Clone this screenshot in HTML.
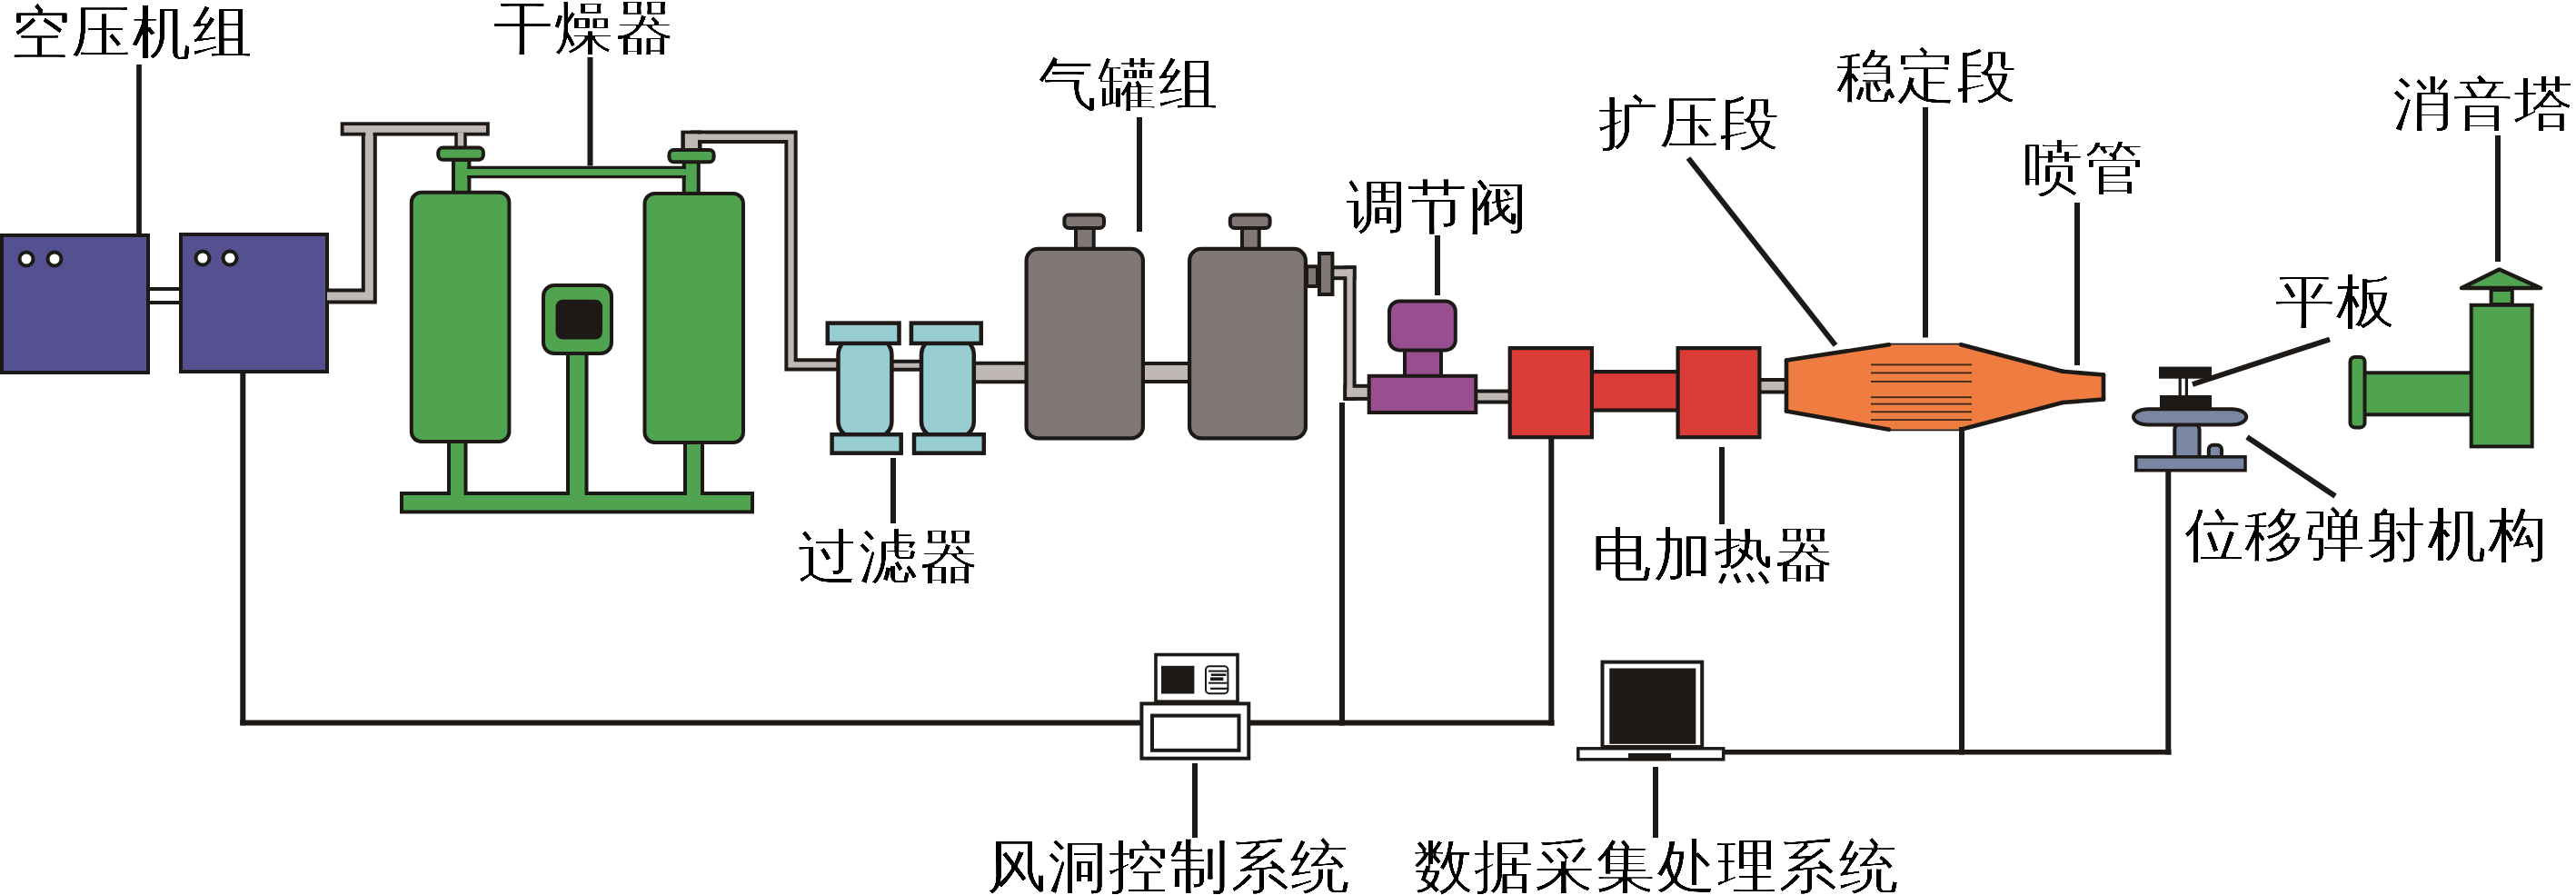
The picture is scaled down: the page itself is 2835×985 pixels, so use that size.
<!DOCTYPE html>
<html><head><meta charset="utf-8">
<style>
html,body{margin:0;padding:0;background:#fff;width:2835px;height:985px;overflow:hidden}
svg{position:absolute;left:0;top:0}
.t{position:absolute;font-family:"Liberation Serif",serif;font-size:65px;line-height:65px;color:#000;white-space:nowrap;letter-spacing:1.9px;filter:url(#er)}
</style></head><body>
<svg width="2835" height="985" viewBox="0 0 2835 985">
<defs><filter id="er" x="-5%" y="-5%" width="110%" height="110%"><feMorphology operator="erode" radius="0.01 1"/><feComponentTransfer><feFuncA type="linear" slope="3"/></feComponentTransfer></filter></defs>
<polyline points="160,325.5 202,325.5" fill="none" stroke="#1c1916" stroke-width="19" stroke-linejoin="miter"/>
<polyline points="160,325.5 202,325.5" fill="none" stroke="#ffffff" stroke-width="11" stroke-linejoin="miter"/>
<rect x="2.0" y="259.0" width="161.0" height="151.0" rx="0" fill="#55508f" stroke="#1c1916" stroke-width="4"/>
<rect x="199.0" y="258.0" width="161.0" height="151.0" rx="0" fill="#55508f" stroke="#1c1916" stroke-width="4"/>
<circle cx="29" cy="285" r="7.5" fill="#fff" stroke="#1c1916" stroke-width="4"/>
<circle cx="60" cy="285" r="7.5" fill="#fff" stroke="#1c1916" stroke-width="4"/>
<circle cx="223" cy="284" r="7.5" fill="#fff" stroke="#1c1916" stroke-width="4"/>
<circle cx="253" cy="284" r="7.5" fill="#fff" stroke="#1c1916" stroke-width="4"/>
<polyline points="360,326 406.3,326 406.3,146" fill="none" stroke="#1c1916" stroke-width="17" stroke-linejoin="miter"/>
<polyline points="360,326 406.3,326 406.3,146" fill="none" stroke="#c0b8b4" stroke-width="9" stroke-linejoin="miter"/>
<rect x="376.6" y="136.2" width="160.3" height="11.5" rx="0" fill="#c0b8b4" stroke="#1c1916" stroke-width="3.8"/>
<polyline points="507,146 507,164" fill="none" stroke="#1c1916" stroke-width="13.5" stroke-linejoin="miter"/>
<polyline points="507,146 507,164" fill="none" stroke="#c0b8b4" stroke-width="6.5" stroke-linejoin="miter"/>
<rect x="402.3" y="144.0" width="8.2" height="7.0" fill="#c0b8b4"/>
<rect x="494.0" y="482.0" width="18.5" height="61.0" rx="0" fill="#50a450" stroke="#1c1916" stroke-width="4"/>
<rect x="754.0" y="482.0" width="19.0" height="61.0" rx="0" fill="#50a450" stroke="#1c1916" stroke-width="4"/>
<rect x="625.0" y="387.0" width="20.5" height="156.0" rx="0" fill="#50a450" stroke="#1c1916" stroke-width="4"/>
<rect x="442.0" y="543.0" width="386.0" height="20.4" rx="0" fill="#50a450" stroke="#1c1916" stroke-width="4"/>
<rect x="496.0" y="540.0" width="14.5" height="6.0" fill="#50a450"/>
<rect x="756.0" y="540.0" width="15.0" height="6.0" fill="#50a450"/>
<rect x="627.0" y="540.0" width="16.5" height="6.0" fill="#50a450"/>
<rect x="499.0" y="176.0" width="17.4" height="36.0" rx="0" fill="#50a450" stroke="#1c1916" stroke-width="4"/>
<rect x="752.7" y="178.0" width="16.1" height="35.0" rx="0" fill="#50a450" stroke="#1c1916" stroke-width="4"/>
<polyline points="514,189.5 755,189.5" fill="none" stroke="#1c1916" stroke-width="13.5" stroke-linejoin="miter"/>
<polyline points="514,189.5 755,189.5" fill="none" stroke="#50a450" stroke-width="6.9" stroke-linejoin="miter"/>
<rect x="452.8" y="211.8" width="107.6" height="274.2" rx="11" fill="#50a450" stroke="#1c1916" stroke-width="4"/>
<rect x="709.5" y="213.0" width="108.5" height="274.0" rx="11" fill="#50a450" stroke="#1c1916" stroke-width="4"/>
<rect x="482.3" y="162.6" width="49.6" height="13.2" rx="5" fill="#50a450" stroke="#1c1916" stroke-width="4"/>
<polyline points="760,150.75 870.5,150.75 870.5,401.3 921,401.3" fill="none" stroke="#1c1916" stroke-width="14.3" stroke-linejoin="miter"/>
<polyline points="760,150.75 870.5,150.75 870.5,401.3 921,401.3" fill="none" stroke="#c0b8b4" stroke-width="6.300000000000001" stroke-linejoin="miter"/>
<rect x="749.4" y="143.6" width="23.1" height="21.4" fill="#1c1916"/>
<rect x="753.9" y="147.6" width="14.1" height="17.4" fill="#c0b8b4"/>
<rect x="753.9" y="147.6" width="22.1" height="6.3" fill="#c0b8b4"/>
<rect x="736.5" y="165.0" width="49.1" height="13.3" rx="5" fill="#50a450" stroke="#1c1916" stroke-width="4"/>
<rect x="598.0" y="314.0" width="75.0" height="75.0" rx="12" fill="#50a450" stroke="#1c1916" stroke-width="4"/>
<rect x="611.5" y="329.7" width="51.5" height="43.8" rx="8" fill="#1c1916"/>
<polyline points="980,402.3 1015,402.3" fill="none" stroke="#1c1916" stroke-width="13" stroke-linejoin="miter"/>
<polyline points="980,402.3 1015,402.3" fill="none" stroke="#c0b8b4" stroke-width="5" stroke-linejoin="miter"/>
<polyline points="1070,410 1131,410" fill="none" stroke="#1c1916" stroke-width="24.5" stroke-linejoin="miter"/>
<polyline points="1070,410 1131,410" fill="none" stroke="#c0b8b4" stroke-width="16.5" stroke-linejoin="miter"/>
<rect x="922.5" y="372.2" width="58.9" height="109.5" rx="18" fill="#97ccd0" stroke="#1c1916" stroke-width="4.5"/>
<rect x="910.8" y="355.6" width="78.7" height="22.3" rx="0" fill="#97ccd0" stroke="#1c1916" stroke-width="4.5"/>
<rect x="915.6" y="478.2" width="76.1" height="20.5" rx="0" fill="#97ccd0" stroke="#1c1916" stroke-width="4.5"/>
<rect x="1014.0" y="372.2" width="57.8" height="109.5" rx="18" fill="#97ccd0" stroke="#1c1916" stroke-width="4.5"/>
<rect x="1002.9" y="355.6" width="76.9" height="22.3" rx="0" fill="#97ccd0" stroke="#1c1916" stroke-width="4.5"/>
<rect x="1006.0" y="478.2" width="76.8" height="20.5" rx="0" fill="#97ccd0" stroke="#1c1916" stroke-width="4.5"/>
<polyline points="1255,410 1312,410" fill="none" stroke="#1c1916" stroke-width="24" stroke-linejoin="miter"/>
<polyline points="1255,410 1312,410" fill="none" stroke="#c0b8b4" stroke-width="16" stroke-linejoin="miter"/>
<rect x="1184.0" y="251.0" width="19.7" height="23.0" rx="0" fill="#817875" stroke="#1c1916" stroke-width="4"/>
<rect x="1129.6" y="273.9" width="128.3" height="208.5" rx="13" fill="#817875" stroke="#1c1916" stroke-width="4.2"/>
<rect x="1171.4" y="236.5" width="43.6" height="14.5" rx="5" fill="#817875" stroke="#1c1916" stroke-width="4"/>
<rect x="1367.0" y="251.0" width="18.7" height="23.0" rx="0" fill="#817875" stroke="#1c1916" stroke-width="4"/>
<rect x="1309.1" y="273.9" width="127.8" height="208.5" rx="13" fill="#817875" stroke="#1c1916" stroke-width="4.2"/>
<rect x="1353.8" y="236.5" width="43.8" height="14.5" rx="5" fill="#817875" stroke="#1c1916" stroke-width="4"/>
<rect x="1438.0" y="293.3" width="12.0" height="21.7" rx="0" fill="#817875" stroke="#1c1916" stroke-width="4"/>
<rect x="1466.0" y="292.3" width="26.6" height="15.9" fill="#1c1916"/>
<rect x="1478.4" y="292.3" width="14.2" height="148.6" fill="#1c1916"/>
<rect x="1478.4" y="422.8" width="29.6" height="18.1" fill="#1c1916"/>
<rect x="1466.0" y="296.3" width="22.6" height="7.9" fill="#c0b8b4"/>
<rect x="1482.4" y="296.3" width="6.2" height="140.6" fill="#c0b8b4"/>
<rect x="1482.4" y="426.8" width="25.6" height="10.1" fill="#c0b8b4"/>
<rect x="1452.0" y="279.0" width="14.4" height="45.0" rx="0" fill="#817875" stroke="#1c1916" stroke-width="4"/>
<polyline points="1620,436.6 1664,436.6" fill="none" stroke="#1c1916" stroke-width="16" stroke-linejoin="miter"/>
<polyline points="1620,436.6 1664,436.6" fill="none" stroke="#c0b8b4" stroke-width="8" stroke-linejoin="miter"/>
<rect x="1546.0" y="385.0" width="40.0" height="29.0" rx="0" fill="#984f8f" stroke="#1c1916" stroke-width="4"/>
<rect x="1529.0" y="331.5" width="72.8" height="53.9" rx="11" fill="#984f8f" stroke="#1c1916" stroke-width="4"/>
<rect x="1506.7" y="413.8" width="117.6" height="40.2" rx="0" fill="#984f8f" stroke="#1c1916" stroke-width="4"/>
<polyline points="1932,424.8 1968,424.8" fill="none" stroke="#1c1916" stroke-width="17.5" stroke-linejoin="miter"/>
<polyline points="1932,424.8 1968,424.8" fill="none" stroke="#c0b8b4" stroke-width="9.5" stroke-linejoin="miter"/>
<rect x="1747.1" y="409.1" width="105.8" height="42.4" rx="0" fill="#db3c38" stroke="#1c1916" stroke-width="4.2"/>
<rect x="1661.7" y="383.1" width="90.2" height="98.1" rx="0" fill="#db3c38" stroke="#1c1916" stroke-width="4.2"/>
<rect x="1846.6" y="383.1" width="89.8" height="98.1" rx="0" fill="#db3c38" stroke="#1c1916" stroke-width="4.2"/>
<polygon points="1966,396.5 2079,379.3 2158,379.3 2270,408.8 2315,412.5 2315,439.5 2270,443 2158,472.7 2079,472.7 1966,452.5" fill="#ef7d41" stroke="none"/>
<line x1="1966" y1="396.5" x2="2079" y2="379.3" stroke="#1c1916" stroke-width="4.6" stroke-linecap="round"/>
<line x1="2158" y1="379.3" x2="2270" y2="408.8" stroke="#1c1916" stroke-width="4.6" stroke-linecap="round"/>
<line x1="2270" y1="408.8" x2="2315" y2="412.5" stroke="#1c1916" stroke-width="4.6" stroke-linecap="round"/>
<line x1="2315" y1="412.5" x2="2315" y2="439.5" stroke="#1c1916" stroke-width="4.6" stroke-linecap="round"/>
<line x1="2315" y1="439.5" x2="2270" y2="443" stroke="#1c1916" stroke-width="4.6" stroke-linecap="round"/>
<line x1="2270" y1="443" x2="2158" y2="472.7" stroke="#1c1916" stroke-width="4.6" stroke-linecap="round"/>
<line x1="2079" y1="472.7" x2="1966" y2="452.5" stroke="#1c1916" stroke-width="4.6" stroke-linecap="round"/>
<line x1="1966" y1="452.5" x2="1966" y2="396.5" stroke="#1c1916" stroke-width="4.6" stroke-linecap="round"/>
<line x1="2079" y1="378.6" x2="2158" y2="378.6" stroke="#1c1916" stroke-width="1.6" stroke-linecap="butt"/>
<line x1="2079" y1="473.4" x2="2158" y2="473.4" stroke="#1c1916" stroke-width="1.6" stroke-linecap="butt"/>
<rect x="2059.0" y="400.5" width="111.0" height="1.8" fill="#3a2418"/>
<rect x="2059.0" y="409.5" width="111.0" height="1.8" fill="#3a2418"/>
<rect x="2059.0" y="419.0" width="111.0" height="1.8" fill="#3a2418"/>
<rect x="2059.0" y="436.3" width="111.0" height="1.8" fill="#3a2418"/>
<rect x="2059.0" y="443.7" width="111.0" height="1.8" fill="#3a2418"/>
<rect x="2059.0" y="452.4" width="111.0" height="1.8" fill="#3a2418"/>
<rect x="2059.0" y="461.2" width="111.0" height="1.8" fill="#3a2418"/>
<rect x="2376.0" y="403.6" width="58.0" height="13.1" fill="#1c1916"/>
<rect x="2397.6" y="416.0" width="3.2" height="20.0" fill="#1c1916"/>
<rect x="2404.8" y="416.0" width="3.2" height="20.0" fill="#1c1916"/>
<rect x="2377.0" y="435.0" width="57.0" height="15.5" fill="#1c1916"/>
<rect x="2393.3" y="466.0" width="27.3" height="44.0" rx="7" fill="#7a87a3" stroke="#1c1916" stroke-width="4"/>
<rect x="2430.8" y="489.7" width="14.2" height="18.3" rx="5" fill="#7a87a3" stroke="#1c1916" stroke-width="4"/>
<rect x="2348.0" y="450.2" width="124.2" height="17.3" rx="16" fill="#7a87a3" stroke="#1c1916" stroke-width="4"/>
<rect x="2350.8" y="502.8" width="120.2" height="14.9" rx="0" fill="#7a87a3" stroke="#1c1916" stroke-width="3.5"/>
<rect x="2602.0" y="410.3" width="118.0" height="46.0" rx="0" fill="#50a450" stroke="#1c1916" stroke-width="4"/>
<rect x="2586.5" y="393.0" width="16.0" height="77.4" rx="5" fill="#50a450" stroke="#1c1916" stroke-width="4"/>
<rect x="2741.6" y="319.0" width="23.2" height="16.0" rx="0" fill="#50a450" stroke="#1c1916" stroke-width="4"/>
<rect x="2719.7" y="335.8" width="67.0" height="155.6" rx="0" fill="#50a450" stroke="#1c1916" stroke-width="4"/>
<polygon points="2750.6,296.5 2796,317 2709,317" fill="#50a450" stroke="#1c1916" stroke-width="4.5" stroke-linejoin="round"/>
<rect x="1272.0" y="720.5" width="90.0" height="51.7" rx="0" fill="#fff" stroke="#1c1916" stroke-width="3.6"/>
<rect x="1278.0" y="732.8" width="36.4" height="30.7" fill="#1c1916"/>
<rect x="1327.0" y="733.2" width="24.4" height="30.1" rx="4" fill="#fff" stroke="#1c1916" stroke-width="2"/>
<rect x="1330.0" y="737.6" width="20.6" height="2.0" fill="#1c1916"/>
<rect x="1332.8" y="741.4" width="16.6" height="2.6" fill="#1c1916"/>
<rect x="1332.0" y="745.4" width="14.4" height="3.6" fill="#1c1916"/>
<rect x="1330.0" y="750.7" width="20.6" height="2.0" fill="#1c1916"/>
<rect x="1332.0" y="756.7" width="19.2" height="2.2" fill="#1c1916"/>
<rect x="1256.4" y="774.4" width="117.9" height="60.3" rx="0" fill="#fff" stroke="#1c1916" stroke-width="4"/>
<rect x="1268.0" y="787.6" width="95.5" height="38.2" rx="0" fill="#fff" stroke="#1c1916" stroke-width="4"/>
<rect x="1763.5" y="728.6" width="109.7" height="93.4" rx="0" fill="#fff" stroke="#1c1916" stroke-width="4"/>
<rect x="1771.3" y="735.5" width="95.0" height="83.3" fill="#1c1916"/>
<rect x="1736.8" y="823.8" width="159.9" height="12.0" rx="0" fill="#fff" stroke="#1c1916" stroke-width="3.5"/>
<rect x="1792.0" y="829.0" width="47.0" height="7.0" fill="#1c1916"/>
<line x1="267.3" y1="409" x2="267.3" y2="798.2" stroke="#1c1916" stroke-width="6" stroke-linecap="butt"/>
<line x1="264.3" y1="795.5" x2="1256" y2="795.5" stroke="#1c1916" stroke-width="6" stroke-linecap="butt"/>
<line x1="1374" y1="795.5" x2="1710.5" y2="795.5" stroke="#1c1916" stroke-width="6" stroke-linecap="butt"/>
<line x1="1477" y1="443" x2="1477" y2="798.5" stroke="#1c1916" stroke-width="6" stroke-linecap="butt"/>
<line x1="1707.3" y1="481" x2="1707.3" y2="798.5" stroke="#1c1916" stroke-width="6" stroke-linecap="butt"/>
<line x1="1896" y1="827.8" x2="2389.5" y2="827.8" stroke="#1c1916" stroke-width="5.5" stroke-linecap="butt"/>
<line x1="2159" y1="470" x2="2159" y2="830.5" stroke="#1c1916" stroke-width="6" stroke-linecap="butt"/>
<line x1="2386.3" y1="517" x2="2386.3" y2="830.5" stroke="#1c1916" stroke-width="6" stroke-linecap="butt"/>
<line x1="153" y1="71" x2="153" y2="259" stroke="#1c1916" stroke-width="5.8" stroke-linecap="butt"/>
<line x1="649.5" y1="63" x2="649.5" y2="182.5" stroke="#1c1916" stroke-width="6" stroke-linecap="butt"/>
<line x1="1254" y1="129" x2="1254" y2="255" stroke="#1c1916" stroke-width="6" stroke-linecap="butt"/>
<line x1="2119" y1="118" x2="2119" y2="371.5" stroke="#1c1916" stroke-width="6" stroke-linecap="butt"/>
<line x1="2286" y1="223" x2="2286" y2="402" stroke="#1c1916" stroke-width="6" stroke-linecap="butt"/>
<line x1="2749" y1="149" x2="2749" y2="288" stroke="#1c1916" stroke-width="6" stroke-linecap="butt"/>
<line x1="1582" y1="259" x2="1582" y2="325" stroke="#1c1916" stroke-width="6" stroke-linecap="butt"/>
<line x1="983" y1="504" x2="983" y2="576" stroke="#1c1916" stroke-width="6" stroke-linecap="butt"/>
<line x1="1895" y1="492" x2="1895" y2="577" stroke="#1c1916" stroke-width="6" stroke-linecap="butt"/>
<line x1="1315" y1="840" x2="1315" y2="922" stroke="#1c1916" stroke-width="6" stroke-linecap="butt"/>
<line x1="1822" y1="844" x2="1822" y2="922" stroke="#1c1916" stroke-width="6" stroke-linecap="butt"/>
<line x1="1858" y1="174" x2="2020" y2="380" stroke="#1c1916" stroke-width="6" stroke-linecap="butt"/>
<line x1="2413" y1="423" x2="2564" y2="373.5" stroke="#1c1916" stroke-width="6" stroke-linecap="butt"/>
<line x1="2473" y1="481" x2="2570" y2="546" stroke="#1c1916" stroke-width="6" stroke-linecap="butt"/>
</svg>
<div class="t" style="left:11.5px;top:4.0px">空压机组</div><div class="t" style="left:543.0px;top:-1.5px">干燥器</div><div class="t" style="left:1141.5px;top:60.5px">气罐组</div><div class="t" style="left:1759.0px;top:104.0px">扩压段</div><div class="t" style="left:2020.5px;top:52.0px">稳定段</div><div class="t" style="left:2227.0px;top:152.5px">喷管</div><div class="t" style="left:2633.0px;top:83.0px">消音塔</div><div class="t" style="left:1482.0px;top:196.0px">调节阀</div><div class="t" style="left:2504.0px;top:299.5px">平板</div><div class="t" style="left:878.0px;top:580.5px">过滤器</div><div class="t" style="left:1752.0px;top:579.0px">电加热器</div><div class="t" style="left:2403.5px;top:557.0px">位移弹射机构</div><div class="t" style="left:1086.0px;top:921.5px">风洞控制系统</div><div class="t" style="left:1555.5px;top:921.5px">数据采集处理系统</div>
</body></html>
